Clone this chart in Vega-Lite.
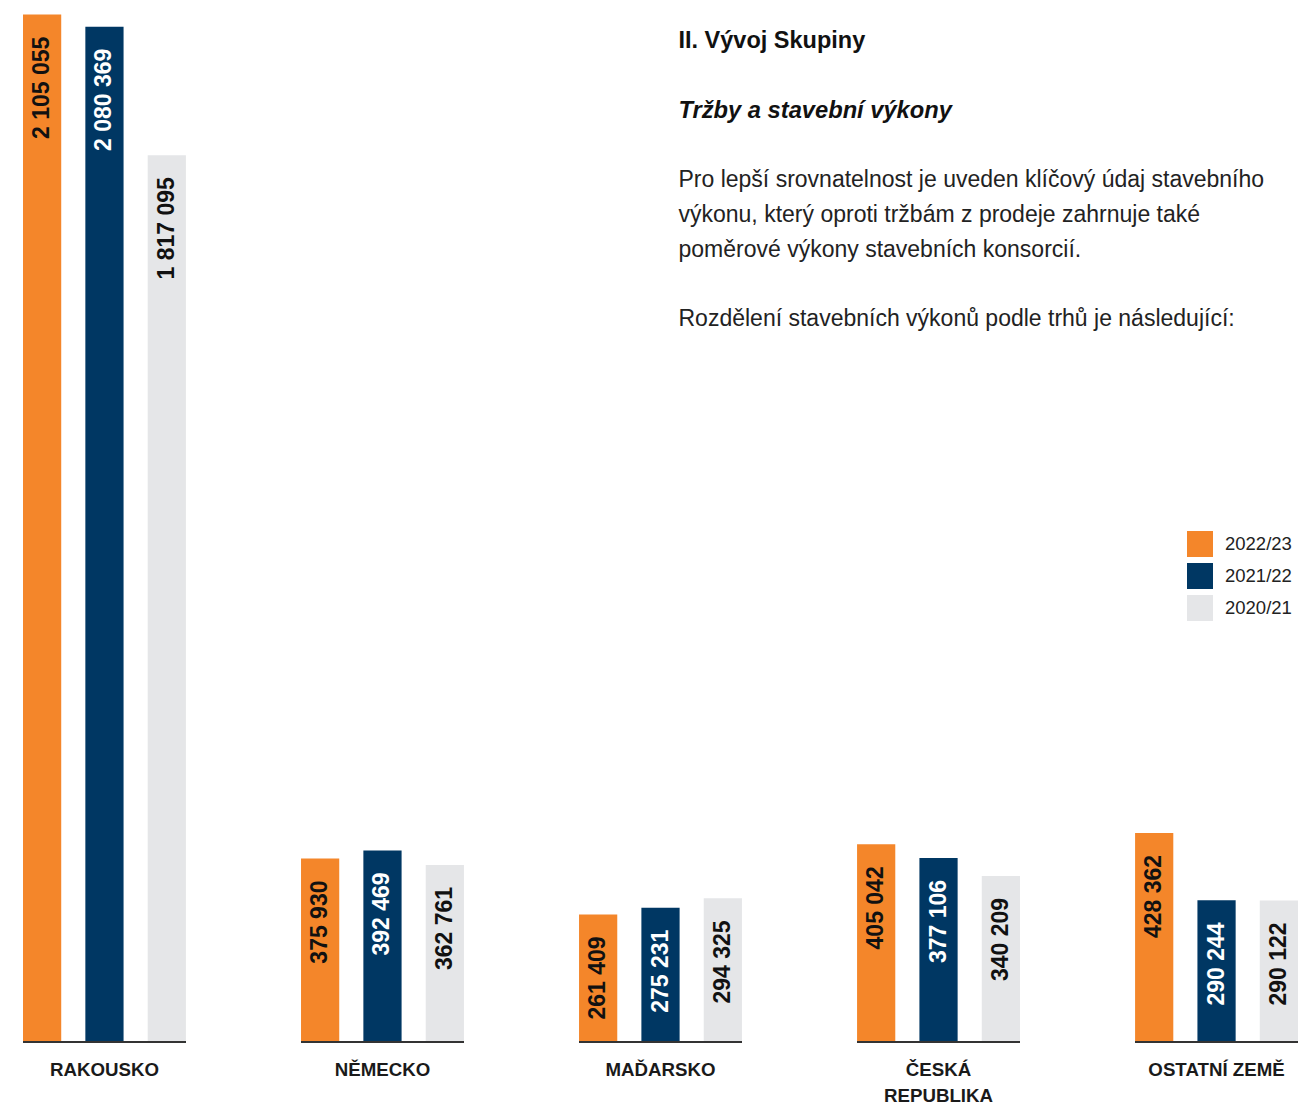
{
  "$schema": "https://vega.github.io/schema/vega-lite/v6.json",
  "width": 1275,
  "height": 1042,
  "autosize": {"type": "none"},
  "padding": {"left": 23, "top": 0, "right": 3, "bottom": 64},
  "config": {
    "view": {"stroke": null},
    "font": "Liberation Sans",
    "locale": {"number": {"decimal": ",", "thousands": " ", "grouping": [3], "currency": ["", " Kč"]}}
  },
  "data": {
    "values": [
      {"country": "RAKOUSKO", "year": "2022/23", "value": 2105055},
      {"country": "RAKOUSKO", "year": "2021/22", "value": 2080369},
      {"country": "RAKOUSKO", "year": "2020/21", "value": 1817095},
      {"country": "NĚMECKO", "year": "2022/23", "value": 375930},
      {"country": "NĚMECKO", "year": "2021/22", "value": 392469},
      {"country": "NĚMECKO", "year": "2020/21", "value": 362761},
      {"country": "MAĎARSKO", "year": "2022/23", "value": 261409},
      {"country": "MAĎARSKO", "year": "2021/22", "value": 275231},
      {"country": "MAĎARSKO", "year": "2020/21", "value": 294325},
      {"country": "ČESKÁ REPUBLIKA", "year": "2022/23", "value": 405042},
      {"country": "ČESKÁ REPUBLIKA", "year": "2021/22", "value": 377106},
      {"country": "ČESKÁ REPUBLIKA", "year": "2020/21", "value": 340209},
      {"country": "OSTATNÍ ZEMĚ", "year": "2022/23", "value": 428362},
      {"country": "OSTATNÍ ZEMĚ", "year": "2021/22", "value": 290244},
      {"country": "OSTATNÍ ZEMĚ", "year": "2020/21", "value": 290122}
    ]
  },
  "encoding": {
    "x": {
      "field": "country",
      "type": "nominal",
      "sort": ["RAKOUSKO", "NĚMECKO", "MAĎARSKO", "ČESKÁ REPUBLIKA", "OSTATNÍ ZEMĚ"],
      "scale": {"paddingInner": 0.414, "paddingOuter": 0},
      "axis": {
        "title": null,
        "domain": false,
        "ticks": false,
        "labelAngle": 0,
        "labelFont": "Liberation Sans",
        "labelFontSize": 18.7,
        "labelFontWeight": "bold",
        "labelColor": "#1a1a1a",
        "labelPadding": 18,
        "labelLineHeight": 26,
        "labelExpr": "datum.label == 'ČESKÁ REPUBLIKA' ? ['ČESKÁ', 'REPUBLIKA'] : datum.label"
      }
    }
  },
  "layer": [
    {
      "mark": {"type": "bar"},
      "encoding": {
        "xOffset": {
          "field": "year",
          "type": "nominal",
          "sort": ["2022/23", "2021/22", "2020/21"],
          "scale": {"paddingInner": 0.387, "paddingOuter": 0}
        },
        "y": {
          "field": "value",
          "type": "quantitative",
          "scale": {"domain": [0, 2135000], "nice": false, "zero": true},
          "axis": null
        },
        "color": {
          "field": "year",
          "type": "nominal",
          "scale": {"domain": ["2022/23", "2021/22", "2020/21"], "range": ["#F4862A", "#003763", "#E5E6E8"]},
          "legend": {
            "title": null,
            "orient": "none",
            "legendX": 1164,
            "legendY": 531,
            "symbolType": "square",
            "symbolSize": 676,
            "symbolStrokeWidth": 0,
            "symbolOpacity": 1,
            "rowPadding": 6,
            "labelOffset": 12,
            "labelFontSize": 18.5,
            "labelColor": "#222222",
            "labelFont": "Liberation Sans",
            "padding": 0
          }
        }
      }
    },
    {
      "mark": {"type": "rect", "color": "#333333"},
      "encoding": {
        "y": {"datum": 2000, "type": "quantitative"},
        "y2": {"datum": -2100}
      }
    },
    {
      "mark": {"type": "text", "angle": 270, "align": "right", "baseline": "middle", "dx": -22, "fontSize": 23, "fontWeight": "bold", "font": "Liberation Sans"},
      "encoding": {
        "xOffset": {
          "field": "year",
          "type": "nominal",
          "sort": ["2022/23", "2021/22", "2020/21"],
          "scale": {"paddingInner": 0.387, "paddingOuter": 0}
        },
        "y": {"field": "value", "type": "quantitative"},
        "text": {"field": "value", "type": "quantitative", "format": ",d"},
        "color": {
          "condition": {"test": "datum.year == '2021/22'", "value": "#ffffff"},
          "value": "#111111"
        }
      }
    },
    {
      "data": {"values": [{"t": "II. Vývoj Skupiny"}]},
      "mark": {"type": "text", "align": "left", "baseline": "middle", "dx": 18, "fontSize": 23.5, "fontWeight": "bold", "color": "#111111", "font": "Liberation Sans"},
      "encoding": {
        "x": {"datum": "MAĎARSKO"},
        "y": {"datum": 2050990, "type": "quantitative"},
        "text": {"field": "t"}
      }
    },
    {
      "data": {"values": [{"t": "Tržby a stavební výkony"}]},
      "mark": {"type": "text", "align": "left", "baseline": "middle", "dx": 18, "fontSize": 23.7, "fontWeight": "bold", "fontStyle": "italic", "color": "#111111", "font": "Liberation Sans"},
      "encoding": {
        "x": {"datum": "MAĎARSKO"},
        "y": {"datum": 1907563, "type": "quantitative"},
        "text": {"field": "t"}
      }
    },
    {
      "data": {"values": [{"t": ["Pro lepší srovnatelnost je uveden klíčový údaj stavebního", "výkonu, který oproti tržbám z prodeje zahrnuje také", "poměrové výkony stavebních konsorcií."]}]},
      "mark": {"type": "text", "align": "left", "baseline": "middle", "dx": 18, "fontSize": 23, "lineHeight": 34.75, "color": "#222222", "font": "Liberation Sans"},
      "encoding": {
        "x": {"datum": "MAĎARSKO"},
        "y": {"datum": 1766186, "type": "quantitative"},
        "text": {"field": "t"}
      }
    },
    {
      "data": {"values": [{"t": "Rozdělení stavebních výkonů podle trhů je následující:"}]},
      "mark": {"type": "text", "align": "left", "baseline": "middle", "dx": 18, "fontSize": 23, "color": "#222222", "font": "Liberation Sans"},
      "encoding": {
        "x": {"datum": "MAĎARSKO"},
        "y": {"datum": 1481384, "type": "quantitative"},
        "text": {"field": "t"}
      }
    }
  ]
}
